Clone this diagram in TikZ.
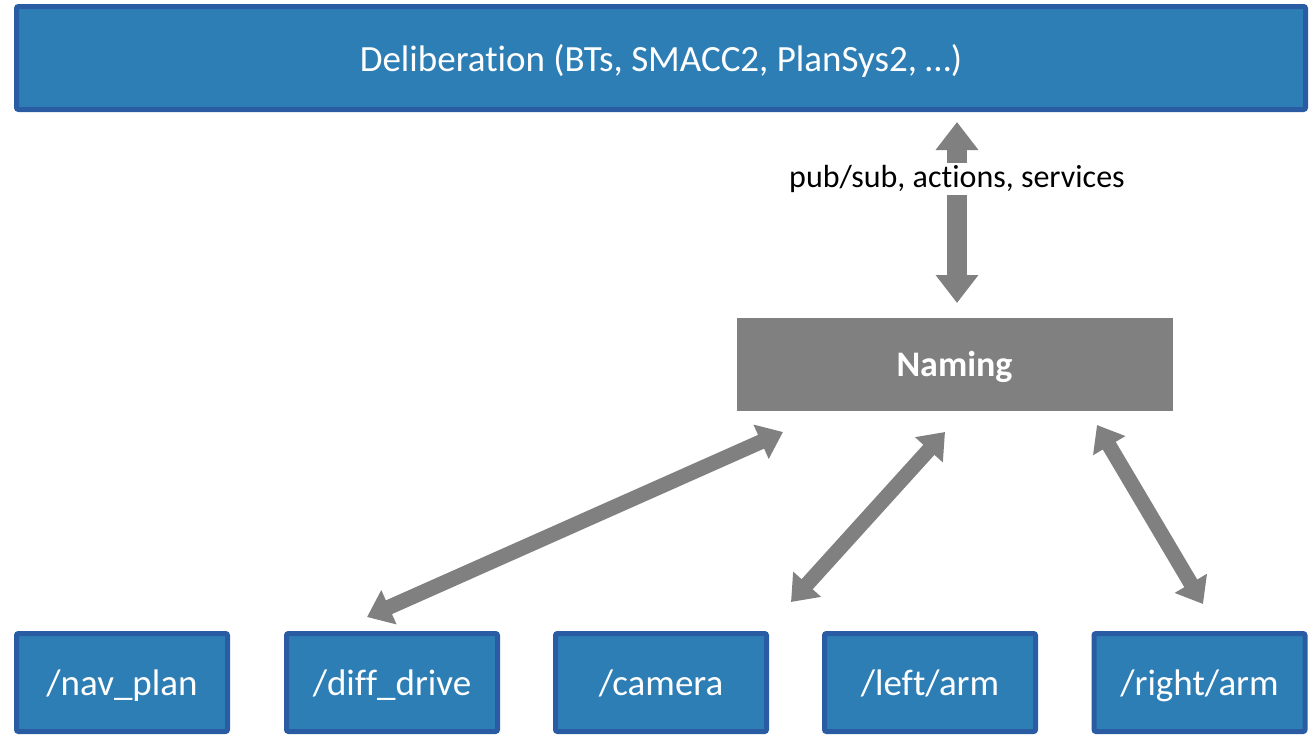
\documentclass[tikz,border=0pt]{standalone}
\usepackage{fontspec}
\setmainfont{Carlito}[Ligatures={NoCommon,NoContextual}, RawFeature={-liga;-clig;-calt}]
\usepackage{xcolor}
\usetikzlibrary{arrows.meta}

\definecolor{boxfill}{HTML}{2E7EB6}
\definecolor{boxline}{HTML}{2A5CA3}
\definecolor{namegray}{HTML}{808080}

\begin{document}
\begin{tikzpicture}[x=1pt, y=-1pt,
        layerbox/.style={draw=boxline, fill=boxfill, line width=5pt, rounded corners=2pt,
            text=white, font=\fontsize{37}{44}\selectfont, inner sep=0pt, text depth=0pt},
        namebox/.style={fill=namegray, text=white, inner sep=0pt, text depth=0pt,
            minimum width=436pt, minimum height=93pt,
            font=\fontsize{36}{42}\selectfont\bfseries},
        fatarrow/.style={draw=namegray, line width=15pt,
            {Triangle[width=36pt, length=24pt]}-{Triangle[width=36pt, length=24pt]}},
        uparrow/.style={draw=namegray, line width=20pt,
            {Triangle[width=41pt, length=28pt]}-{Triangle[width=41pt, length=28pt]}}]
        \clip (0,0) rectangle (1313,734);

        % Top layer
        \node[layerbox, minimum width=1289pt, minimum height=103pt] (delib) at (661,58)
            {Deliberation (BTs, SMACC2, PlanSys2, …)};

        % Naming
        \node[namebox] (naming) at (954.5,364) {Naming};

        % Bottom row
        \node[layerbox, minimum width=211pt, minimum height=98pt] (navplan) at (122,682.5) {/nav\_plan};
        \node[layerbox, minimum width=211pt, minimum height=98pt] (diffdrive) at (392,682.5) {/diff\_drive};
        \node[layerbox, minimum width=211pt, minimum height=98pt] (camera) at (661,682.5) {/camera};
        \node[layerbox, minimum width=211pt, minimum height=98pt] (leftarm) at (930,682.5) {/left/arm};
        \node[layerbox, minimum width=211pt, minimum height=98pt] (rightarm) at (1199.5,682.5) {/right/arm};

        % Arrow ends
        \coordinate (dtop) at (957,122);
        \coordinate (dbot) at (957,303);
        \coordinate (a1) at (783,432);
        \coordinate (b1) at (367,617);
        \coordinate (a2) at (945,432);
        \coordinate (b2) at (791,602);
        \coordinate (a3) at (1097,425);
        \coordinate (b3) at (1203,604);

        % Connectors
        \draw[uparrow] (dbot) -- (dtop);
        \node[fill=white, inner sep=2pt, font=\fontsize{32}{38}\selectfont] (proto) at (957,179)
            {pub/sub, actions, services};
        \draw[fatarrow] (b1) -- (a1);
        \draw[fatarrow] (b2) -- (a2);
        \draw[fatarrow] (b3) -- (a3);
\end{tikzpicture}
\end{document}
